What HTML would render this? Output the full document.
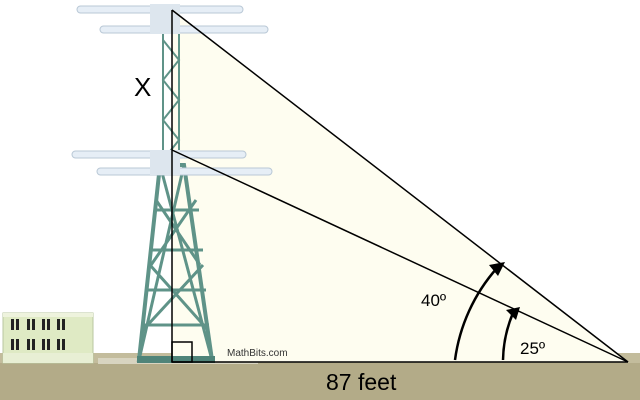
<!DOCTYPE html>
<html><head><meta charset="utf-8"><style>
html,body{margin:0;padding:0;background:#fff}
svg{display:block}
text{font-family:"Liberation Sans",sans-serif}
</style></head><body>
<svg width="640" height="400" viewBox="0 0 640 400">
<rect width="640" height="400" fill="#fff"/>
<rect x="0" y="353" width="640" height="47" fill="#b3ab88"/>
<rect x="0" y="353" width="640" height="10" fill="#c3bc9c"/>
<rect x="98" y="358" width="160" height="6" fill="#d8d4c0"/>
<polygon points="172,10 628,362 172,362" fill="#fefdf0"/>
<g>
<rect x="3" y="313" width="90" height="50" fill="#dfeac4" stroke="#b9c7a0"/>
<rect x="3" y="313" width="90" height="4" fill="#eef3dd"/>
<rect x="3" y="353" width="90" height="10" fill="#e8efd4"/>
<g fill="#222">
<rect x="11" y="319" width="3" height="11"/><rect x="16" y="319" width="3" height="11"/>
<rect x="27" y="319" width="3" height="11"/><rect x="32" y="319" width="3" height="11"/>
<rect x="42" y="319" width="3" height="11"/><rect x="47" y="319" width="3" height="11"/>
<rect x="57" y="319" width="3" height="11"/><rect x="62" y="319" width="3" height="11"/>
<rect x="11" y="339" width="3" height="11"/><rect x="16" y="339" width="3" height="11"/>
<rect x="27" y="339" width="3" height="11"/><rect x="32" y="339" width="3" height="11"/>
<rect x="42" y="339" width="3" height="11"/><rect x="47" y="339" width="3" height="11"/>
<rect x="57" y="339" width="3" height="11"/><rect x="62" y="339" width="3" height="11"/>
</g>
</g>
<g stroke="#5f9388" fill="none" stroke-width="3">
<polygon points="139,360 160,165 184,165 212,360" stroke-width="4"/>
<path d="M160,165 L212,360 M184,165 L139,360 M155,210 L199,210 M150,250 L203,250 M146,290 L206,290 M142,325 L209,325 M156,200 L200,265 M196,200 L151,265 M150,265 L208,330 M203,265 L143,330"/>
<rect x="163" y="30" width="16" height="130" stroke-width="2"/>
<path d="M163,40 L179,60 L163,80 L179,100 L163,120 L179,140 L163,160" stroke-width="2"/>
<rect x="137" y="356" width="78" height="7" fill="#4f8479" stroke="none"/>
</g>
<g fill="#e6eef6" stroke="#b9c8d6" stroke-width="1">
<rect x="77" y="6" width="166" height="7" rx="3.5"/>
<rect x="100" y="26" width="168" height="7" rx="3.5"/>
<rect x="72" y="151" width="174" height="7" rx="3.5"/>
<rect x="97" y="168" width="175" height="7" rx="3.5"/>
<rect x="150" y="4" width="30" height="30" fill="#dde6ee" stroke="none"/>
<rect x="150" y="150" width="30" height="25" fill="#dde6ee" stroke="none"/>
</g>
<g stroke="#000" stroke-width="1.5" fill="none">
<line x1="172" y1="10" x2="172" y2="362"/>
<line x1="172" y1="10" x2="628" y2="362"/>
<line x1="172" y1="150" x2="628" y2="362"/>
<line x1="172" y1="362" x2="628" y2="362"/>
<rect x="172" y="342" width="20" height="20"/>
</g>
<g stroke="#000" stroke-width="2.5" fill="none">
<path d="M455,360 A173,173 0 0 1 497,268"/>
<polygon points="505,262 489,265 498,276" fill="#000" stroke="none"/>
<path d="M503,360 A125,125 0 0 1 513,313"/>
<polygon points="520,307 506,310 516,320" fill="#000" stroke="none"/>
</g>
<text x="134" y="96" font-size="26">X</text>
<text x="421" y="306" font-size="17">40º</text>
<text x="520" y="354" font-size="17">25º</text>
<text x="326" y="390" font-size="23">87 feet</text>
<text x="227" y="356" font-size="10" fill="#333">MathBits.com</text>
</svg>
</body></html>
